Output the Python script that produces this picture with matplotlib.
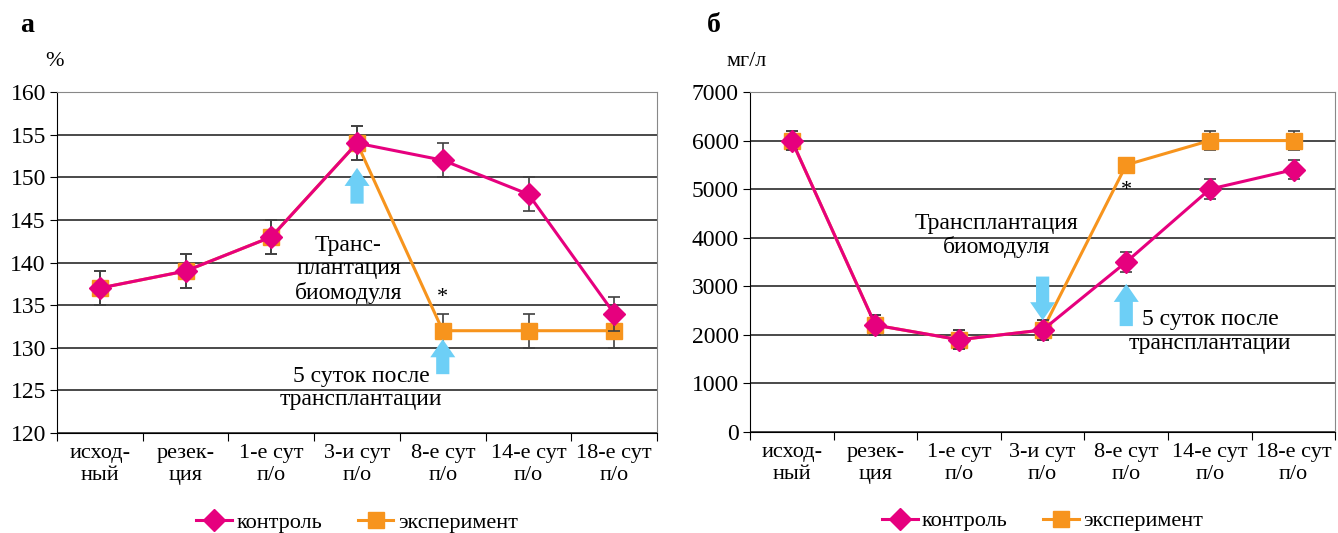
import matplotlib.pyplot as plt
from matplotlib.lines import Line2D

plt.rcParams['font.family'] = ['Liberation Serif', 'DejaVu Serif']
plt.rcParams['font.size'] = 16

categories = ["исход-\nный", "резек-\nция", "1-е сут\nп/о", "3-и сут\nп/о",
              "8-е сут\nп/о", "14-е сут\nп/о", "18-е сут\nп/о"]

# panel а, %
pct_control = [137, 139, 143, 154, 152, 148, 134]
pct_control_err = [2, 2, 2, 2, 2, 2, 2]
pct_exp = [137, 139, 143, 154, 132, 132, 132]
pct_exp_err = [2, 2, 2, 2, 2, 2, 2]

# panel б, мг/л
mg_control = [6000, 2200, 1900, 2100, 3500, 5000, 5400]
mg_control_err = [200, 200, 200, 200, 200, 200, 200]
mg_exp = [6000, 2200, 1900, 2100, 5500, 6000, 6000]
mg_exp_err = [200, 200, 200, 200, 150, 200, 200]

PINK = "#e6007e"
ORANGE = "#f7941d"
BLUE = "#6dcff6"
GRID = "#3a3a3a"


def draw_panel(ax, control, control_err, exp, exp_err, ylim, step):
    x = range(len(categories))
    ax.errorbar(x, exp, yerr=exp_err, color=ORANGE, lw=2.2, marker="s", ms=12,
                mec=ORANGE, ecolor="#404040", elinewidth=1.2, capsize=4,
                capthick=1.2, zorder=3)
    ax.errorbar(x, control, yerr=control_err, color=PINK, lw=2.2, marker="D", ms=11,
                mec=PINK, ecolor="#404040", elinewidth=1.2, capsize=4,
                capthick=1.2, zorder=4)

    ax.set_xlim(-0.5, len(categories) - 0.5)
    ax.set_ylim(*ylim)
    ax.set_yticks(range(ylim[0], ylim[1] + 1, step))
    ax.yaxis.grid(True, color=GRID, lw=1.3)
    ax.set_axisbelow(True)

    # ticks on category boundaries, labels in the middle
    ax.set_xticks([i - 0.5 for i in range(len(categories) + 1)])
    ax.set_xticklabels([])
    ax.set_xticks(list(x), minor=True)
    ax.set_xticklabels(categories, minor=True, linespacing=1.2)
    ax.tick_params(axis="x", which="minor", length=0, pad=8, labelsize=16)
    ax.tick_params(axis="x", which="major", length=6, direction="out")
    ax.tick_params(axis="y", length=5, direction="out", labelsize=17, pad=3)
    for side in ("top", "right"):
        ax.spines[side].set_color("#888888")
    ax.spines["left"].set_color("black")
    ax.spines["bottom"].set_color("black")

    handles = [
        Line2D([], [], color=PINK, lw=2.2, marker="D", ms=11, mec=PINK),
        Line2D([], [], color=ORANGE, lw=2.2, marker="s", ms=12, mec=ORANGE),
    ]
    ax.legend(handles, ["контроль", "эксперимент"], loc="center",
              bbox_to_anchor=(0.5, -0.262), ncol=2, frameon=False,
              handlelength=1.6, columnspacing=1.6, handletextpad=0.2,
              fontsize=16, borderaxespad=0)


def arrow(ax, x, y0, y1):
    ax.annotate("", xy=(x, y1), xytext=(x, y0),
                arrowprops=dict(arrowstyle="simple,head_width=1.8,head_length=1.3,tail_width=0.95",
                                color=BLUE, lw=0, mutation_scale=10,
                                shrinkA=0, shrinkB=0), zorder=5)


fig = plt.figure(figsize=(13.38, 5.33), dpi=100)
ax1 = fig.add_axes([0.0426, 0.1876, 0.4485, 0.6398])
ax2 = fig.add_axes([0.5605, 0.1895, 0.4375, 0.6379])

draw_panel(ax1, pct_control, pct_control_err, pct_exp, pct_exp_err, (120, 160), 5)
draw_panel(ax2, mg_control, mg_control_err, mg_exp, mg_exp_err, (0, 7000), 1000)

# annotations, panel а
arrow(ax1, 3, 146.9, 151.1)
arrow(ax1, 4, 126.9, 131.0)
ax1.text(2.9, 139.2, "Транс-\nплантация\nбиомодуля", ha="center", va="center",
         fontsize=17, linespacing=1.15)
ax1.text(3.05, 125.3, "5 суток после\nтрансплантации", ha="center", va="center",
         fontsize=17, linespacing=1.15)
ax1.text(4, 135.9, "*", ha="center", va="center", fontsize=16)
ax1.text(-0.02, 1.09, "%", transform=ax1.transAxes, ha="left", va="center", fontsize=16)
fig.text(0.015, 0.953, "а", fontsize=20, fontweight="bold", va="center")

# annotations, panel б
arrow(ax2, 3, 3200, 2300)
arrow(ax2, 4, 2180, 3050)
ax2.text(2.45, 4050, "Трансплантация\nбиомодуля", ha="center", va="center",
         fontsize=17, linespacing=1.15)
ax2.text(5.0, 2070, "5 суток после\nтрансплантации", ha="center", va="center",
         fontsize=17, linespacing=1.15)
ax2.text(4, 4980, "*", ha="center", va="center", fontsize=16)
ax2.text(-0.04, 1.09, "мг/л", transform=ax2.transAxes, ha="left", va="center", fontsize=16)
fig.text(0.528, 0.953, "б", fontsize=20, fontweight="bold", va="center")

fig.savefig("out.png", dpi=100)
